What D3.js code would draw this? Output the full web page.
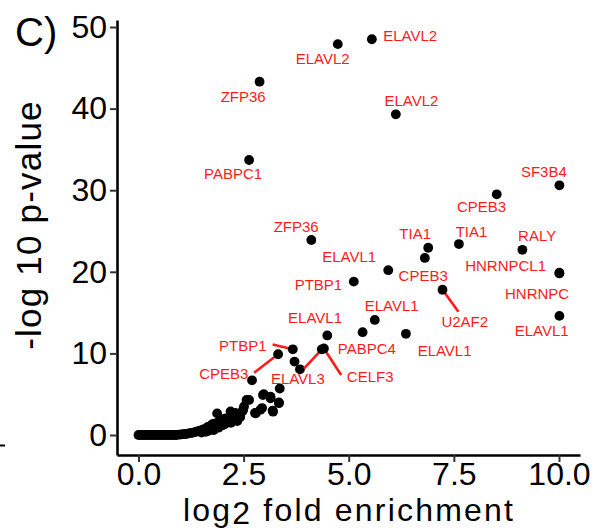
<!DOCTYPE html>
<html>
<head>
<meta charset="utf-8">
<script src="https://cdn.jsdelivr.net/npm/d3@7"></script>
<style>
  html, body { margin: 0; padding: 0; background: #fff; }
  svg { display: block; font-family: "Liberation Sans", Arial, Helvetica, sans-serif; }
</style>
</head>
<body>
<svg id="chart" width="608" height="531"></svg>
<script>
// ---- Data ----
// Labelled RNA-binding proteins (log2 fold enrichment, -log10 p-value)
const labelNames = ["ELAVL2","ELAVL2","ZFP36","PABPC1","ELAVL2","SF3B4","CPEB3","TIA1","TIA1","CPEB3",
  "ELAVL1","PTBP1","RALY","HNRNPCL1","HNRNPC","ELAVL1","U2AF2","ELAVL1","PABPC4","ELAVL1",
  "ZFP36","ELAVL1","PTBP1","CPEB3","ELAVL3","CELF3"];
const labelX = [5.55,4.74,2.88,2.63,6.12,10.01,8.52,6.89,7.62,6.81,
  5.94,5.12,9.13,10.01,10.01,10.01,7.23,5.62,5.33,6.36,
  4.11,4.49,3.67,3.32,4.36,4.41];
const labelY = [48.5,47.9,43.3,33.7,39.3,30.6,29.5,22.95,23.4,21.7,
  20.2,18.8,22.7,19.8,19.9,14.6,17.8,14.1,12.6,12.4,
  23.9,12.2,10.5,9.9,10.5,10.6];
// repelled text positions (data units)
const textX = [6.46,4.38,2.49,2.25,6.49,9.64,8.16,6.58,7.92,6.77,
  5.01,4.28,9.48,8.73,9.48,9.59,7.76,6.02,5.43,7.28,
  3.75,4.20,2.48,2.03,3.79,5.51];
const textY = [49.0,46.1,41.5,32.0,41.0,32.35,28.0,24.75,24.9,19.5,
  21.9,18.5,24.4,20.8,17.4,12.8,13.9,15.9,10.6,10.4,
  25.6,14.4,11.0,7.56,6.95,7.14];
// connector segment start points (data units), null = no segment
const segX = [null,null,null,null,null,null,null,null,null,null,
  null,null,null,null,null,null,7.61,null,null,null,
  null,null,3.19,2.75,3.94,4.82];
const segY = [null,null,null,null,null,null,null,null,null,null,
  null,null,null,null,null,null,15.1,null,null,null,
  null,null,11.1,7.63,8.17,7.35];

// Unlabelled proteins
const otherX = [3.71,3.84,2.70,3.36,2.98,3.14,2.57,3.34,2.94,2.77,3.19,2.49,2.30,2.19,1.87,2.23,2.47,2.51,2.63,2.79,2.90,2.96,3.14,3.20,3.34,
  0.00,0.05,0.10,0.15,0.20,0.25,0.30,0.35,0.40,0.45,0.50,0.55,0.60,0.65,0.70,0.75,0.80,0.85,0.90,0.95,1.00,1.05,1.10,1.15,1.20,1.25,
  1.30,1.35,1.40,1.45,1.50,1.55,1.60,1.65,1.70,1.75,1.80,1.85,1.90,1.95,2.00,2.05,2.10,2.15,2.20,2.25,2.30,2.35,2.40,
  1.50,1.60,1.75,1.79,1.90,2.05,2.20,2.35,1.95,2.10,1.68,1.82,2.00,2.28,2.42];
const otherY = [9.0,8.05,6.7,5.7,5.0,4.5,4.3,4.0,3.3,2.7,3.0,3.1,2.7,2.9,2.65,2.65,2.9,3.5,4.3,2.65,3.1,4.9,4.7,2.86,3.9,
  0.0,0.0,0.0,0.0,0.0,0.0,0.0,0.0,0.0,0.0,0.0,0.0,0.0,0.0,0.0,0.0,0.0,0.0,0.0,0.05,0.05,0.1,0.1,0.15,0.2,0.25,
  0.3,0.35,0.45,0.5,0.6,0.7,0.8,1.0,1.1,1.3,1.4,1.2,1.6,1.8,1.5,2.0,1.9,2.2,2.0,2.6,2.3,2.1,2.5,
  0.3,0.4,0.7,0.6,0.9,1.3,1.5,1.7,1.1,1.6,0.55,1.0,1.2,1.9,2.2];

const xTicks = [0, 2.5, 5, 7.5, 10];
const yTicks = [0, 10, 20, 30, 40, 50];

// ---- Layout ----
const svg = d3.select("#chart");
const x = d3.scaleLinear().domain([-0.511, 10.5]).range([117, 580]);
const y = d3.scaleLinear().domain([-2.45, 50.86]).range([455, 20]);

// Axes
const xAxis = d3.axisBottom(x).tickValues(xTicks).tickFormat(d3.format(".1f")).tickSize(7).tickSizeOuter(0).tickPadding(0);
const yAxis = d3.axisLeft(y).tickValues(yTicks).tickFormat(d3.format("d")).tickSize(7).tickSizeOuter(0).tickPadding(3);

const gx = svg.append("g").attr("transform", "translate(0,455)").call(xAxis);
const gy = svg.append("g").attr("transform", "translate(117,0)").call(yAxis);
[gx, gy].forEach(g => {
  g.select(".domain").attr("stroke", "#000").attr("stroke-width", 2.6);
  g.selectAll(".tick line").attr("stroke", "#333").attr("stroke-width", 2);
  g.selectAll(".tick text").attr("fill", "#000").style("font-size", "32px")
    .style("font-family", "'Liberation Sans', Arial, sans-serif");
});

// Background points
const others = otherX.map((v, i) => ({x: v, y: otherY[i]}));
svg.append("g").selectAll("circle").data(others).join("circle")
  .attr("cx", d => x(d.x)).attr("cy", d => y(d.y)).attr("r", 4.9).attr("fill", "#000");

// Labelled
const lab = labelNames.map((n, i) => ({name: n, x: labelX[i], y: labelY[i], tx: textX[i], ty: textY[i], sx: segX[i], sy: segY[i]}));

// segments
svg.append("g").selectAll("line").data(lab.filter(d => d.sx !== null)).join("line")
  .attr("x1", d => x(d.sx)).attr("y1", d => y(d.sy))
  .attr("x2", d => x(d.x)).attr("y2", d => y(d.y))
  .attr("stroke", "#ff1a1a").attr("stroke-width", 2.6);

svg.append("g").selectAll("circle").data(lab).join("circle")
  .attr("cx", d => x(d.x)).attr("cy", d => y(d.y)).attr("r", 4.9).attr("fill", "#000");

svg.append("g").selectAll("text").data(lab).join("text")
  .attr("x", d => x(d.tx)).attr("y", d => y(d.ty))
  .attr("text-anchor", "middle").attr("dominant-baseline", "central")
  .attr("fill", "#ff1a1a").style("font-size", "15px")
  .text(d => d.name);

// Axis titles
const xt = svg.append("text").attr("x", 349).attr("y", 521).attr("text-anchor", "middle")
  .style("font-size", "32px").style("letter-spacing", "2.2px").attr("fill", "#000");
xt.append("tspan").text("log");
xt.append("tspan").attr("dy", 3).text("2");
xt.append("tspan").attr("dy", -3).text(" fold enrichment");

svg.append("text").attr("transform", "translate(41,225) rotate(-90)")
  .attr("text-anchor", "middle").style("font-size", "35px").style("letter-spacing", "1.2px").attr("fill", "#000")
  .text("-log 10 p-value");

// Panel tag
svg.append("text").attr("x", 15).attr("y", 46).style("font-size", "40px").attr("fill", "#000").text("C)");

// stray mark at left edge (from neighbouring panel)
svg.append("line").attr("x1", 0).attr("x2", 5).attr("y1", 445.5).attr("y2", 445.5)
  .attr("stroke", "#000").attr("stroke-width", 2);
</script>
</body>
</html>
